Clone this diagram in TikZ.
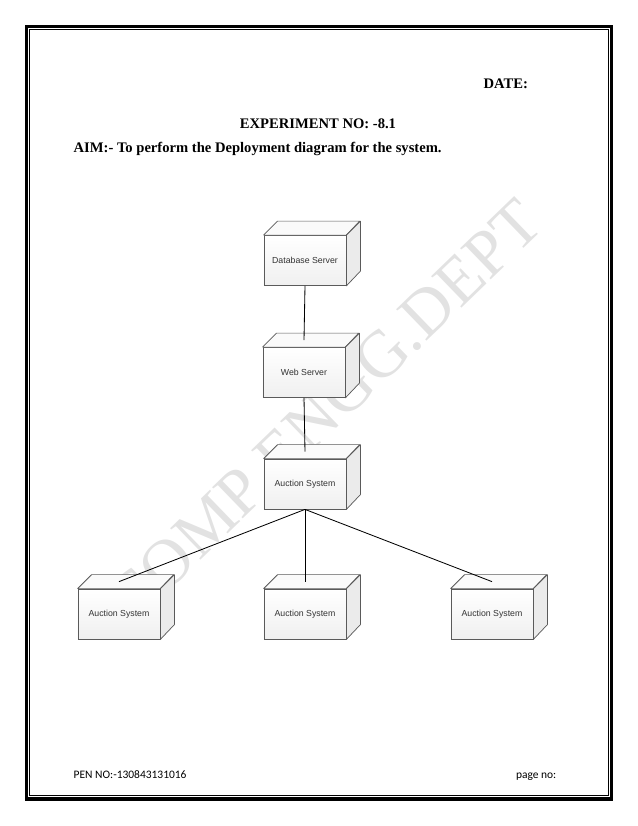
\documentclass[tikz,border=0pt]{standalone}
\usepackage{fontspec}
\setmainfont{Liberation Serif}
\setsansfont{Liberation Sans}
\newfontfamily\footfont{Carlito}
\usepackage{xcolor}
\usepackage{tikz}
\usetikzlibrary{positioning, calc}

\definecolor{edgegrey}{HTML}{5A5A5A}
\definecolor{labelgrey}{HTML}{333333}
\definecolor{markgrey}{HTML}{E2E2E2}

\begin{document}
\begin{tikzpicture}[x=0.9592pt, y=-0.9592pt,
        nodebox/.style={draw=edgegrey, line width=0.7pt, top color=white, bottom color=gray!12,
            minimum width=78.7pt, minimum height=48pt, inner sep=0pt,
            font=\sffamily\fontsize{8.4}{9}\selectfont, text=labelgrey},
        face/.style={draw=edgegrey, line width=0.7pt, line join=round},
        link/.style={line width=0.8pt, black},
        headtext/.style={font=\bfseries\fontsize{14}{16}\selectfont},
        foottext/.style={font=\footfont\fontsize{11}{13}\selectfont, anchor=base}]
    \useasboundingbox (0,0) rectangle (638,826);
    % page frame
    \draw[line width=2.9pt] (26.5,26.5) rectangle (611.5,799);
    \draw[line width=0.8pt] (29.8,29.8) rectangle (608.2,795.8);
    % watermark
    \node[text=markgrey, font=\fontsize{64}{64}\selectfont, rotate=44] (mark) at (324,411) {COMP ENGG.DEPT};
    % header
    \node[headtext, anchor=base west] (date) at (480,88) {DATE:};
    \node[headtext, anchor=base] (expno) at (318,128) {EXPERIMENT NO: -8.1};
    \node[headtext, anchor=base west] (aim) at (70,152) {AIM:- To perform the Deployment diagram for the system.};
    % deployment nodes
    \node[nodebox] (db) at (305,260.5) {Database Server};
    \node[nodebox] (web) at (304,372.5) {Web Server};
    \node[nodebox] (hub) at (305,484) {Auction System};
    \node[nodebox] (left) at (119,614) {Auction System};
    \node[nodebox] (mid) at (305,614) {Auction System};
    \node[nodebox] (right) at (492,614) {Auction System};
    \foreach \n in {db,web,hub,left,mid,right}{
        \path[face, fill=gray!4] (\n.north west) -- ++(14,-14) -- ++(82,0) -- (\n.north east) -- cycle;
        \path[face, fill=gray!16] (\n.north east) -- ++(14,-14) -- ++(0,50) -- (\n.south east) -- cycle;
    }
    % links
    \draw[link] (db.south) -- ([yshift=6.7pt]web.north);
    \draw[link] (web.south) -- ([yshift=6.7pt]hub.north);
    \foreach \n in {left,mid,right}
        \draw[link] (hub.south) -- ([yshift=6.7pt]\n.north);
    % footer
    \node[foottext, anchor=base west] (pen) at (70,778) {PEN NO:-130843131016};
    \node[foottext, anchor=base east] (page) at (560,778) {page no:};
\end{tikzpicture}
\end{document}
